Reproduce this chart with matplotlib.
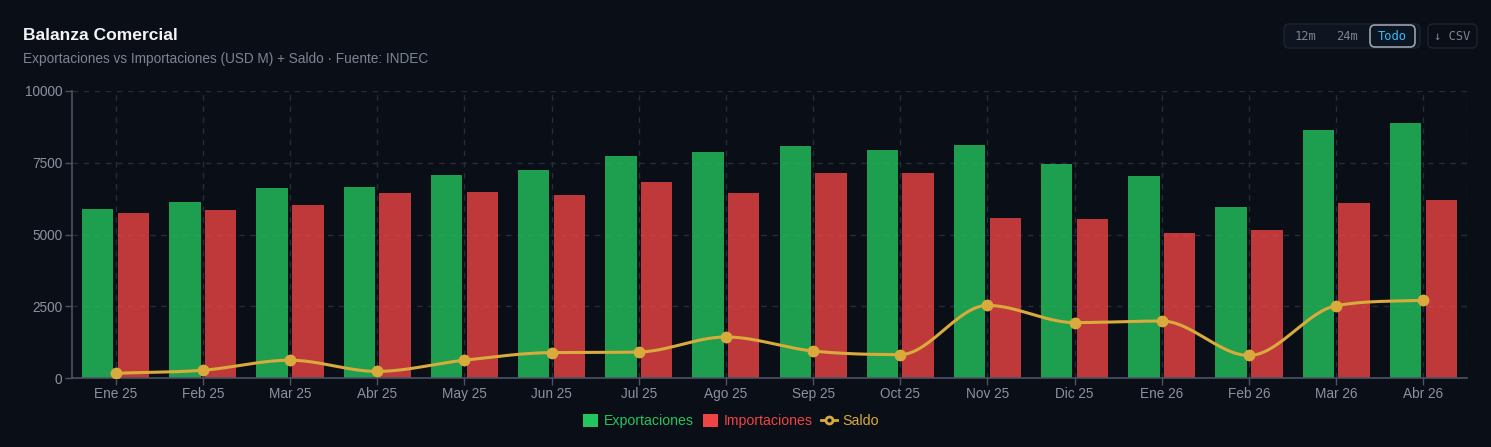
import numpy as np
import matplotlib
matplotlib.use("Agg")
import matplotlib.pyplot as plt
from matplotlib.patches import FancyBboxPatch, Patch
from matplotlib.lines import Line2D

# Data (USD M)
months = ["Ene 25", "Feb 25", "Mar 25", "Abr 25", "May 25", "Jun 25", "Jul 25", "Ago 25",
          "Sep 25", "Oct 25", "Nov 25", "Dic 25", "Ene 26", "Feb 26", "Mar 26", "Abr 26"]
exportaciones = [5900, 6120, 6620, 6650, 7080, 7260, 7745, 7870,
                 8100, 7940, 8115, 7465, 7035, 5945, 8625, 8895]
importaciones = [5745, 5840, 6015, 6440, 6465, 6375, 6825, 6440,
                 7160, 7130, 5570, 5535, 5050, 5165, 6105, 6190]
saldo = [165, 270, 620, 230, 620, 885, 905, 1430,
         940, 815, 2530, 1930, 1985, 785, 2520, 2705]
y_ticks = [0, 2500, 5000, 7500, 10000]

BG = "#0a0e17"
GRID = "#252c3b"
AXIS = "#4b5262"
TICK_TXT = "#8a91a0"
GREEN = "#22c55e"
RED = "#ef4444"
GOLD = "#d9ab3c"

plt.rcParams["font.family"] = ["Liberation Sans", "DejaVu Sans"]


def monotone_curve(x, y, n=30):
    """Fritsch-Carlson monotone cubic, like chart.js 'monotone'."""
    x = np.asarray(x, float)
    y = np.asarray(y, float)
    h = np.diff(x)
    d = np.diff(y) / h
    m = np.zeros_like(y)
    m[0], m[-1] = d[0], d[-1]
    for i in range(1, len(y) - 1):
        if d[i - 1] * d[i] <= 0:
            m[i] = 0.0
        else:
            m[i] = (d[i - 1] + d[i]) / 2
    for i in range(len(d)):
        if d[i] == 0:
            m[i] = m[i + 1] = 0
            continue
        a, b = m[i] / d[i], m[i + 1] / d[i]
        s = a * a + b * b
        if s > 9:
            t = 3 / np.sqrt(s)
            m[i], m[i + 1] = t * a * d[i], t * b * d[i]
    xs, ys = [], []
    for i in range(len(h)):
        t = np.linspace(0, 1, n, endpoint=False)
        h00 = 2 * t**3 - 3 * t**2 + 1
        h10 = t**3 - 2 * t**2 + t
        h01 = -2 * t**3 + 3 * t**2
        h11 = t**3 - t**2
        xs.append(x[i] + t * h[i])
        ys.append(h00 * y[i] + h10 * h[i] * m[i] + h01 * y[i + 1] + h11 * h[i] * m[i + 1])
    xs.append([x[-1]])
    ys.append([y[-1]])
    return np.concatenate(xs), np.concatenate(ys)


W, H = 1491, 447
fig = plt.figure(figsize=(W / 100, H / 100), dpi=100, facecolor=BG)
ax = fig.add_axes([72 / W, 1 - 378 / H, (1467 - 72) / W, (378 - 91) / H])
ax.set_facecolor(BG)

x = np.arange(len(months))
bw = 0.36
ax.bar(x - 0.205, exportaciones, width=bw, color=GREEN, alpha=0.8, zorder=2)
ax.bar(x + 0.205, importaciones, width=bw, color=RED, alpha=0.8, zorder=2)

sx, sy = monotone_curve(x, saldo)
ax.plot(sx, sy, color=GOLD, lw=2.2, zorder=3, solid_capstyle="round")
ax.plot(x, saldo, "o", color=GOLD, ms=7.5, zorder=4)

ax.set_xlim(-0.5, len(months) - 0.5)
ax.set_ylim(0, 10000)
ax.set_xticks(x)
ax.set_xticklabels(months)
ax.set_yticks(y_ticks)
ax.set_yticklabels([str(v) for v in y_ticks])
ax.tick_params(axis="both", colors=AXIS, labelcolor=TICK_TXT, labelsize=9.8, length=5, width=1)
ax.tick_params(axis="x", pad=1.5)
ax.tick_params(axis="y", pad=2)
for lbl in ax.get_yticklabels():
    lbl.set_va("center_baseline")

ax.grid(True, color=GRID, ls=(0, (4, 4)), lw=1, zorder=0)
ax.axvline(len(months) - 0.5, color=GRID, ls=(0, (4, 4)), lw=1, zorder=0)
for side in ("top", "right"):
    ax.spines[side].set_visible(False)
for side in ("left", "bottom"):
    ax.spines[side].set_color(AXIS)
    ax.spines[side].set_linewidth(1.2)

# Title block
fig.text(23 / W, 1 - 36 / H, "Balanza Comercial", color="#f3f4f6", fontsize=12.6,
         fontweight="bold", va="center", ha="left")
fig.text(23 / W, 1 - 59 / H, "Exportaciones vs Importaciones (USD M) + Saldo · Fuente: INDEC",
         color="#7c8494", fontsize=9.8, va="center", ha="left")


# Range buttons (top right)
def px_box(x0, y0, x1, y1, fc, ec, lw=1.0, r=5):
    box = FancyBboxPatch((x0 / W, 1 - y1 / H), (x1 - x0) / W, (y1 - y0) / H,
                         boxstyle=f"round,pad=0,rounding_size={r / W}",
                         transform=fig.transFigure, fc=fc, ec=ec, lw=lw,
                         mutation_aspect=W / H)
    fig.patches.append(box)


px_box(1284, 24, 1420, 48, "#0f1520", "#1c2330")
px_box(1370, 25, 1415, 47, "#0b1622", "#9aa1ad", lw=1.2)
px_box(1428, 24, 1477, 48, BG, "#1c2330")
mono = "DejaVu Sans Mono"
fig.text(1305 / W, 1 - 36 / H, "12m", color="#7c8494", fontsize=8.7, family=mono, ha="center", va="center")
fig.text(1347 / W, 1 - 36 / H, "24m", color="#7c8494", fontsize=8.7, family=mono, ha="center", va="center")
fig.text(1392 / W, 1 - 36 / H, "Todo", color="#38bdf8", fontsize=8.7, family=mono, ha="center", va="center")
fig.text(1452 / W, 1 - 36 / H, "↓ CSV", color="#7c8494", fontsize=8.7, family=mono, ha="center", va="center")

# Legend
handles = [
    Patch(facecolor=GREEN, edgecolor="none"),
    Patch(facecolor=RED, edgecolor="none"),
    Line2D([0], [0], color=GOLD, lw=2, marker="o", ms=5, mfc=BG, mec=GOLD, mew=2),
]
fig.legend(handles, ["Exportaciones", "Importaciones", "Saldo"], loc="center",
           bbox_to_anchor=(731 / W, 1 - 421 / H), ncol=3, frameon=False,
           fontsize=10.2, labelcolor=[GREEN, RED, GOLD], handlelength=1.1,
           handleheight=1.0, handletextpad=0.4, columnspacing=0.6)

fig.savefig("out.png", dpi=100, facecolor=BG)
